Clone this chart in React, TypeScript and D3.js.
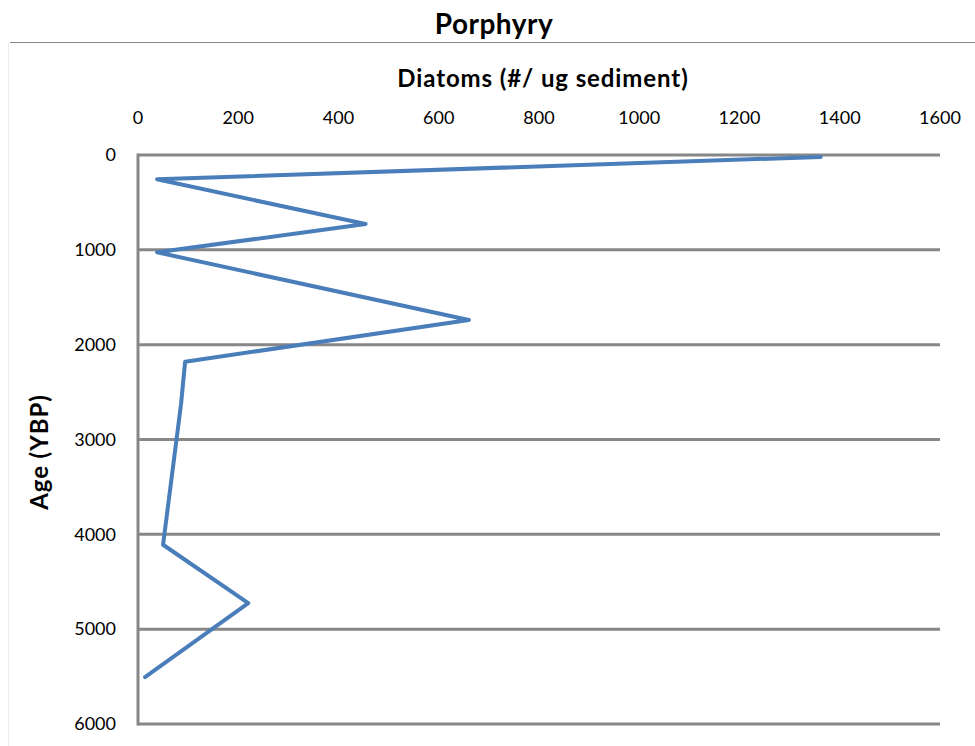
import React from "react";
import * as d3 from "d3";

const ages: number[] = [20, 256, 728, 1026, 1740, 2180, 2620, 4110, 4726, 5506];
const diatoms: number[] = [1362, 38, 454, 38, 660, 94, 86, 50, 220, 14];
const xTicks: number[] = [0, 200, 400, 600, 800, 1000, 1200, 1400, 1600];
const yTicks: number[] = [0, 1000, 2000, 3000, 4000, 5000, 6000];
const title = "Porphyry";
const xTitle = "Diatoms (#/ ug sediment)";
const yTitle = "Age (YBP)";

const W = 975;
const H = 746;
const left = 138;
const right = 940;
const top = 155;
const bottom = 724;
const font = "Lato, 'Open Sans', sans-serif";

export default function App() {
  const x = d3.scaleLinear().domain([0, 1600]).range([left, right]);
  const y = d3.scaleLinear().domain([0, 6000]).range([top, bottom]);
  const pts = ages.map((a, i) => [diatoms[i], a] as [number, number]);
  const line = d3
    .line<[number, number]>()
    .x((d) => x(d[0]))
    .y((d) => y(d[1]));

  return (
    <svg
      width={W}
      height={H}
      style={{ position: "absolute", left: 0, top: 0, background: "#fff" }}
      fontFamily={font}
    >
      <rect x={0} y={0} width={W} height={H} fill="#fff" />
      <line x1={10} x2={W} y1={42.5} y2={42.5} stroke="#8a8a8a" strokeWidth={1.2} />
      <line x1={8.5} x2={8.5} y1={43} y2={H} stroke="#ececec" strokeWidth={1} />
      <text x={494} y={34} textAnchor="middle" fontSize={28} fontWeight="bold" letterSpacing={0.5} fill="#000">
        {title}
      </text>
      <text x={543} y={87} textAnchor="middle" fontSize={24} fontWeight="bold" letterSpacing={0.9} fill="#000">
        {xTitle}
      </text>
      {xTicks.map((t) => (
        <text key={"xt" + t} x={x(t)} y={124} textAnchor="middle" fontSize={18} fill="#000">
          {t}
        </text>
      ))}
      {yTicks.map((t) => (
        <g key={"yt" + t}>
          <line x1={left} x2={right} y1={y(t)} y2={y(t)} stroke="#878787" strokeWidth={3} />
          <text x={116} y={y(t)} dy="0.35em" textAnchor="end" fontSize={18} fill="#000">
            {t}
          </text>
        </g>
      ))}
      <line x1={left} x2={left} y1={top - 1.5} y2={bottom + 1.5} stroke="#878787" strokeWidth={3} />
      <text
        transform={`translate(48, 452) rotate(-90)`}
        textAnchor="middle"
        fontSize={24}
        fontWeight="bold"
        letterSpacing={0.9}
        fill="#000"
      >
        {yTitle}
      </text>
      <path
        d={line(pts) || ""}
        fill="none"
        stroke="#4a7ebb"
        strokeWidth={4}
        strokeLinejoin="round"
        strokeLinecap="round"
      />
    </svg>
  );
}
